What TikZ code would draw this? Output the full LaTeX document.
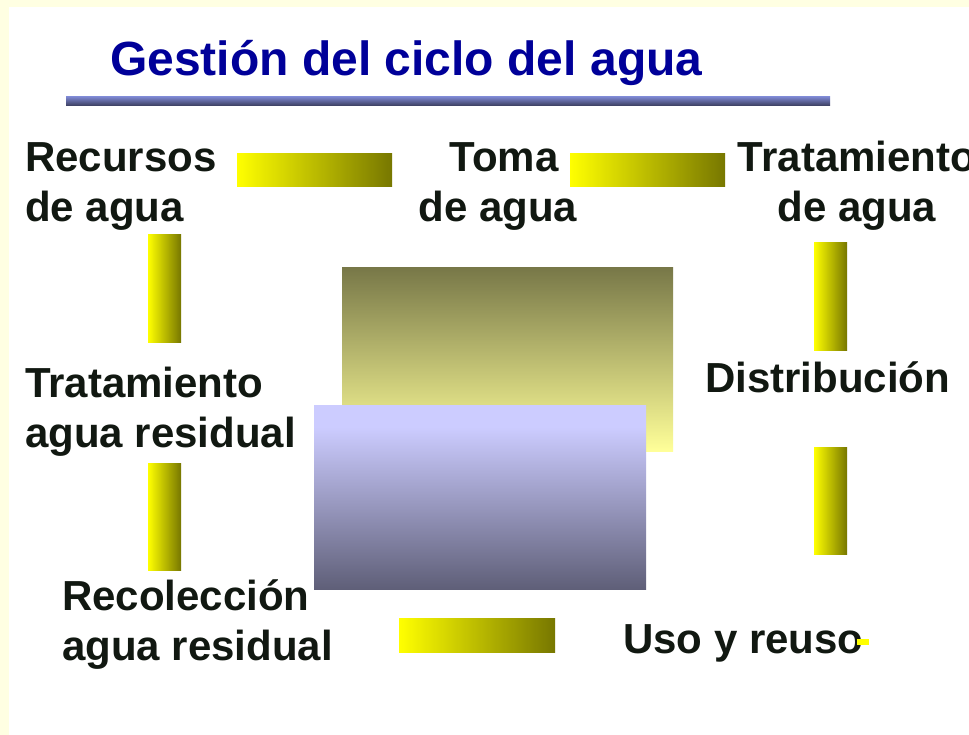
\documentclass[tikz,border=0pt]{standalone}
\usepackage{fontspec}
\setmainfont{Liberation Sans}
\usetikzlibrary{shadings}
\definecolor{pagebg}{RGB}{255,255,226}
\definecolor{titleblue}{RGB}{0,0,153}
\definecolor{txt}{RGB}{17,24,17}
\definecolor{barlight}{RGB}{255,255,0}
\definecolor{bardark}{RGB}{119,119,0}
\definecolor{olivetop}{RGB}{120,120,72}
\definecolor{olivebot}{RGB}{255,255,153}
\definecolor{bluetop}{RGB}{204,204,255}
\definecolor{bluebot}{RGB}{95,95,120}
\definecolor{ruletop}{RGB}{122,132,204}
\definecolor{rulebot}{RGB}{58,60,92}
\pgfdeclareverticalshading{bluebox}{100bp}{color(0bp)=(bluebot); color(25bp)=(bluebot); color(69bp)=(bluetop); color(100bp)=(bluetop)}
\tikzset{
  lbl/.style={anchor=base west, inner sep=0pt, text=txt, font=\fontsize{42}{50}\selectfont\bfseries},
  hbar/.style={left color=barlight, right color=bardark},
  vbar/.style={left color=barlight, right color=bardark},
}
\begin{document}
\begin{tikzpicture}[x=1pt,y=-1pt]
\useasboundingbox (0,0) rectangle (969,735);
\fill[pagebg] (0,0) rectangle (969,735);
\fill[white] (9,7) rectangle (969,735);
% title
\node[anchor=base west, inner sep=0pt, text=titleblue, font=\fontsize{48}{56}\selectfont\bfseries] (title) at (110,76) {Gestión del ciclo del agua};
\shade[top color=ruletop, bottom color=rulebot] (66,97) rectangle (830,106);
% central boxes
\shade[top color=olivetop, bottom color=olivebot] (342,268) rectangle (673,451);
\shade[shading=bluebox] (314,405) rectangle (646,589);
% horizontal bars
\shade[hbar] (237,154) rectangle (392,187);
\shade[hbar] (570,154) rectangle (725,187);
\shade[hbar] (399,618) rectangle (555,652);
% vertical bars
\shade[vbar] (148,235) rectangle (181,342);
\shade[vbar] (148,463) rectangle (181,570);
\shade[vbar] (814,243) rectangle (847,350);
\shade[vbar] (814,447) rectangle (847,554);
% labels
\node[lbl] (recursos) at (25,172) {\begin{tabular}[t]{@{}l@{}}Recursos\\de agua\end{tabular}};
\node[lbl, anchor=base] (toma) at (498,172) {\begin{tabular}[t]{@{}c@{}}\hspace*{12pt}Toma\\de agua\end{tabular}};
\node[lbl, anchor=base] (tratagua) at (857,172) {\begin{tabular}[t]{@{}c@{}}Tratamiento\\de agua\end{tabular}};
\node[lbl] (tratres) at (25,397) {\begin{tabular}[t]{@{}l@{}}Tratamiento\\agua residual\end{tabular}};
\node[lbl] (distrib) at (705,392) {Distribución};
\node[lbl] (recol) at (62,610) {\begin{tabular}[t]{@{}l@{}}Recolección\\agua residual\end{tabular}};
\node[lbl] (uso) at (623,653) {Uso y reuso};
\fill[barlight] (857,639) rectangle (869,645);
\end{tikzpicture}
\end{document}
